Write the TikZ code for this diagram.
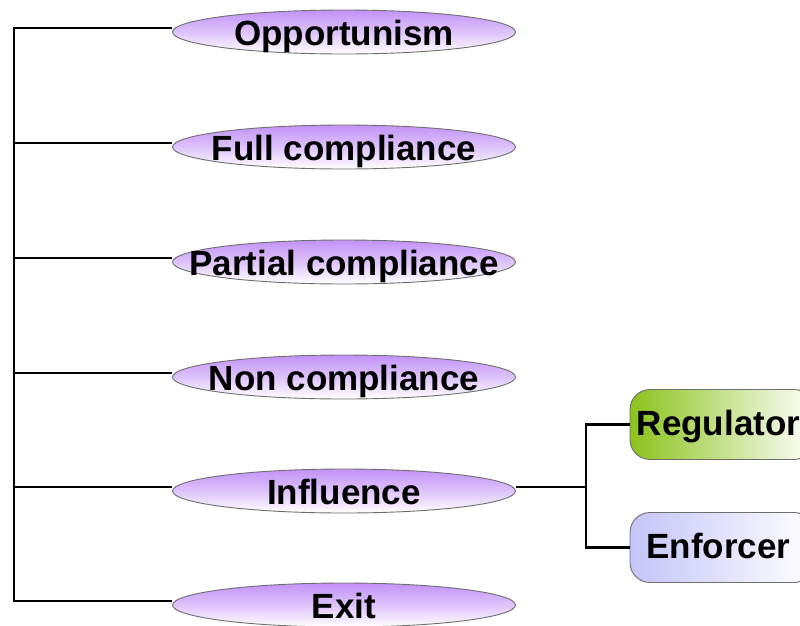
\documentclass[tikz,border=0pt]{standalone}
\usepackage{fontspec}
\setmainfont{Liberation Sans}
\usetikzlibrary{shapes.geometric}
\definecolor{lilac}{HTML}{C292F6}
\definecolor{leaf}{HTML}{8BC21C}
\definecolor{periwinkle}{HTML}{C4C4F8}
\definecolor{rim}{HTML}{6E6E6E}
\tikzset{
  every node/.style={font=\bfseries\fontsize{35}{37}\selectfont},
  caption/.style={anchor=base, inner sep=0pt},
  pill/.style={ellipse, draw=rim, line width=0.9pt, minimum width=343pt,
    minimum height=44pt, inner sep=0pt, top color=lilac, bottom color=white,
    middle color=lilac!55!white},
  tile/.style={rectangle, rounded corners=20pt, draw=rim, line width=0.9pt,
    minimum width=184pt, minimum height=70pt, inner sep=0pt},
  wire/.style={line width=2.8pt, black}
}
\begin{document}
\begin{tikzpicture}[x=1pt, y=-1pt]
\useasboundingbox (0,0) rectangle (800,625);

% options of the strategy tree
\node[pill] (opp) at (344,32) {};
\node[caption] (oppt) at (344,45) {Opportunism};
\node[pill] (full) at (344,147) {};
\node[caption] (fullt) at (344,160) {Full compliance};
\node[pill] (part) at (344,262) {};
\node[caption] (partt) at (344,275) {Partial compliance};
\node[pill] (non) at (344,377) {};
\node[caption] (nont) at (344,390) {Non compliance};
\node[pill] (infl) at (344,491) {};
\node[caption] (inflt) at (344,504) {Influence};
\node[pill] (exit) at (344,605) {};
\node[caption] (exitt) at (344,618) {Exit};

% the two actors that can be influenced
\node[tile, left color=leaf, right color=white] (reg) at (722,424.5) {};
\node[caption] (regt) at (718.5,435) {Regulator};
\node[tile, left color=periwinkle, right color=white] (enf) at (722,547.5) {};
\node[caption] (enft) at (718.5,558) {Enforcer};

% trunk on the left
\coordinate (top) at (14,28);
\coordinate (bot) at (14,601);
\draw[wire] ([yshift=4pt]opp.west) -- (top) -- (bot) -- ([yshift=4pt]exit.west);
\draw[wire] (14,143) -- ([yshift=4pt]full.west);
\draw[wire] (14,258) -- ([yshift=4pt]part.west);
\draw[wire] (14,373) -- ([yshift=4pt]non.west);
\draw[wire] (14,487) -- ([yshift=4pt]infl.west);

% branch from Influence
\coordinate (fork) at (586,487);
\draw[wire] ([yshift=4pt]infl.east) -- (fork);
\draw[wire] (reg.west) -| (fork) |- (enf.west);
\end{tikzpicture}
\end{document}
